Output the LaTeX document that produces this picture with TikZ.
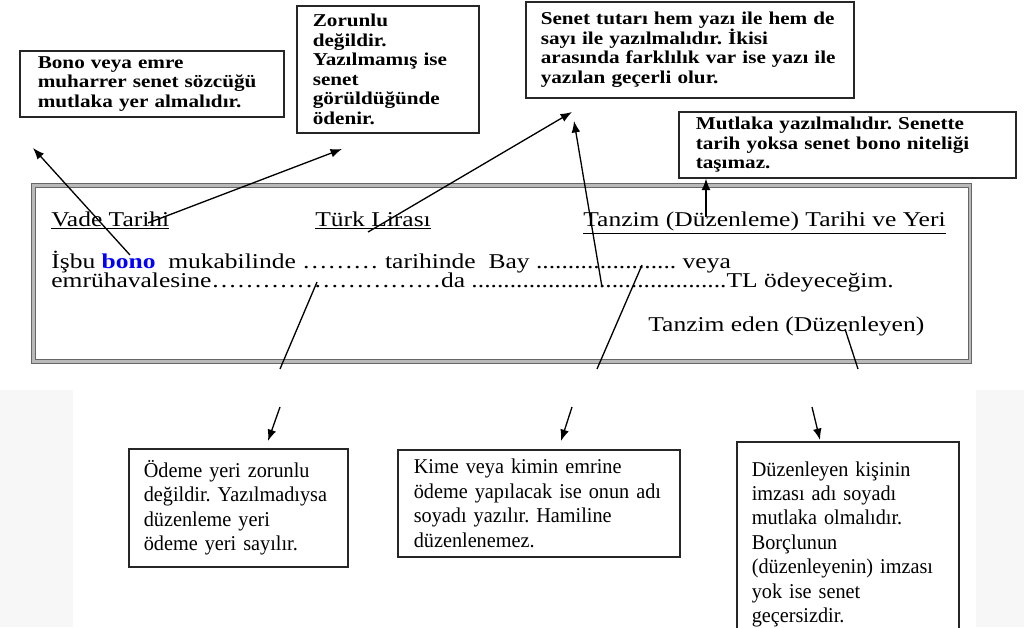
\documentclass[tikz,border=0pt]{standalone}
\usepackage{fontspec}
\setmainfont{Liberation Serif}
\newfontfamily\notefont[FakeStretch=1.17]{Liberation Serif}
\newfontfamily\lowfont[FakeStretch=0.96]{Liberation Serif}
\newfontfamily\formfont[FakeStretch=1.21]{Liberation Serif}
\usepackage{xcolor}
\usetikzlibrary{arrows.meta}
\frenchspacing

\begin{document}
\begin{tikzpicture}[
    x=0.02cm, y=-0.02cm,
    topnote/.style={rectangle, draw=black!85, line width=0.9pt, anchor=north west, align=left, inner ysep=0pt, font=\notefont\bfseries\fontsize{10.3}{11.1}\selectfont},
    lownote/.style={rectangle, draw=black!85, line width=0.9pt, anchor=north west, align=left, inner ysep=0pt, font=\lowfont\fontsize{12}{13.9}\selectfont},
    formframe/.style={rectangle, anchor=north west, draw=black!60, double=gray!55, double distance=1.4pt, line width=0.5pt, inner sep=0pt},
    formtext/.style={anchor=base west, inner sep=0pt, font=\formfont\fontsize{12}{12}\selectfont},
    line/.style={draw, line width=0.75pt},
    arrow/.style={draw, -{Latex[length=6.5pt,width=5pt]}, line width=0.75pt}
]
    \useasboundingbox (0,0) rectangle (1024,627);
    \clip (0,0) rectangle (1024,627);
    \fill[white] (0,0) rectangle (1024,627);
    \fill[black!3] (0,390) rectangle (73,627);
    \fill[black!3] (976,390) rectangle (1024,627);

    % Notes above
    \node[topnote, minimum width=5.28cm, minimum height=1.32cm, text width=4.56cm, inner xsep=0.36cm] (sozcuk) at (19,50) {Bono veya emre\\ muharrer senet sözcüğü\\ mutlaka yer almalıdır.};
    \node[topnote, minimum width=3.64cm, minimum height=2.54cm, text width=3.0cm, inner xsep=0.32cm] (vade) at (296,5) {Zorunlu\\ değildir.\\ Yazılmamış ise\\ senet\\ görüldüğünde\\ ödenir.};
    \node[topnote, minimum width=6.56cm, minimum height=1.92cm, text width=5.96cm, inner xsep=0.3cm] (tutar) at (525,1) {Senet tutarı hem yazı ile hem de\\ sayı ile yazılmalıdır. İkisi\\ arasında farklılık var ise yazı ile\\ yazılan geçerli olur.};
    \node[topnote, minimum width=6.74cm, minimum height=1.32cm, text width=6.06cm, inner xsep=0.34cm] (tarih) at (678,111) {Mutlaka yazılmalıdır. Senette\\ tarih yoksa senet bono niteliği\\ taşımaz.};

    % The bono form
    \node[formframe, minimum width=18.74cm, minimum height=3.52cm] (form) at (33,185) {};
    \node[formtext] (vadeyaz) at (51,226) {\underline{Vade Tarihi}};
    \node[formtext] (lira) at (315,226) {\underline{Türk Lirası}};
    \node[formtext] (tanzim) at (583,226) {\underline{Tanzim (Düzenleme) Tarihi ve Yeri}};
    \node[formtext] (satir1) at (51,268) {İşbu \textcolor{blue}{\textbf{bono}}\ \ mukabilinde ……… tarihinde\ \ Bay ...................... veya};
    \node[formtext] (satir2) at (51,287) {emrühavalesine………………………da ........................................TL ödeyeceğim.};
    \node[formtext] (imza) at (648,331) {Tanzim eden (Düzenleyen)};

    % Notes below
    \node[lownote, minimum width=4.38cm, minimum height=2.36cm, text width=3.78cm, inner xsep=0.3cm] (odeme) at (128,448) {Ödeme yeri zorunlu\\ değildir. Yazılmadıysa\\ düzenleme yeri\\ ödeme yeri sayılır.};
    \node[lownote, minimum width=5.64cm, minimum height=2.14cm, text width=5.0cm, inner xsep=0.32cm] (kime) at (397,449) {Kime veya kimin emrine\\ ödeme yapılacak ise onun adı\\ soyadı yazılır. Hamiline\\ düzenlenemez.};
    \node[lownote, minimum width=4.44cm, minimum height=4.1cm, text width=3.84cm, inner xsep=0.3cm] (duzenleyen) at (736,441) {Düzenleyen kişinin\\ imzası adı soyadı\\ mutlaka olmalıdır.\\ Borçlunun\\ (düzenleyenin) imzası\\ yok ise senet\\ geçersizdir.};

    % Points on the form
    \coordinate (bonoPt) at (130,255);
    \coordinate (vadePt) at (148,223);
    \coordinate (liraPt) at (368,232);
    \coordinate (tutarPt) at (602,287);
    \coordinate (tanzimPt) at (706,217);
    \coordinate (odemePt) at (317,282);
    \coordinate (kimePt) at (642,265);
    \coordinate (imzaPt) at (845,329);
    % Free ends
    \coordinate (bonoTip) at (33,148);
    \coordinate (vadeTip) at (342,149);
    \coordinate (liraTip) at (572,112);
    \coordinate (tutarTip) at (574,121);
    \coordinate (odemeEnd) at (280,369);
    \coordinate (kimeEnd) at (597,369);
    \coordinate (imzaEnd) at (858,369);
    \coordinate (odemeFrom) at (280,407);
    \coordinate (odemeTip) at (268,441);
    \coordinate (kimeFrom) at (572,407);
    \coordinate (kimeTip) at (561,441);
    \coordinate (imzaFrom) at (812,407);
    \coordinate (imzaTip) at (820,440);

    % Paths
    \path [arrow] (bonoPt) -- (bonoTip);
    \path [arrow] (vadePt) -- (vadeTip);
    \path [arrow] (liraPt) -- (liraTip);
    \path [arrow] (tutarPt) -- (tutarTip);
    \path [arrow] (tanzimPt) -- (tanzimPt |- tarih.south);
    \path [line] (odemePt) -- (odemeEnd);
    \path [line] (kimePt) -- (kimeEnd);
    \path [line] (imzaPt) -- (imzaEnd);
    \path [arrow] (odemeFrom) -- (odemeTip);
    \path [arrow] (kimeFrom) -- (kimeTip);
    \path [arrow] (imzaFrom) -- (imzaTip);
\end{tikzpicture}
\end{document}
